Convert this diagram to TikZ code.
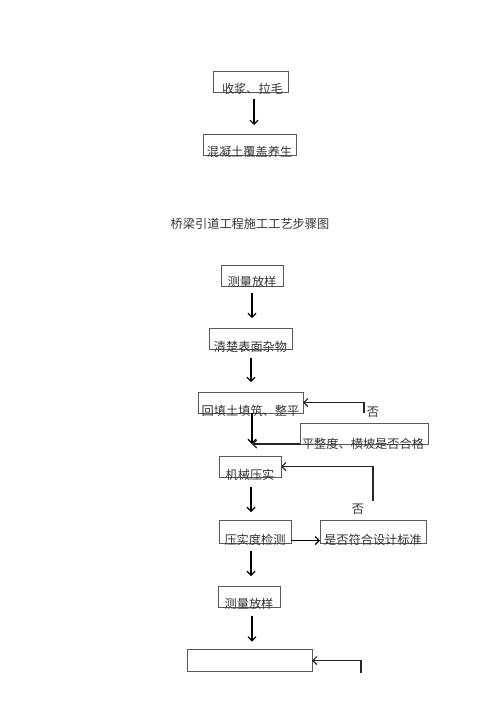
\documentclass[tikz,border=0pt]{standalone}
\usepackage{fontspec}
\newfontfamily\cjk{Noto Sans CJK SC}
\usetikzlibrary{arrows.meta}
\begin{document}
\begin{tikzpicture}[x=1pt,y=-1pt,
  box/.style={draw=black!65,line width=0.8pt,rectangle,inner sep=0pt,outer sep=0pt,minimum height=21pt},
  txt/.style={inner sep=0pt,text=black!80,font=\cjk\fontsize{12.2}{14}\selectfont},
  arr/.style={line width=1.1pt,-{Straight Barb[length=4pt,width=8pt,line width=1.1pt]}},
  fb/.style={line width=1.1pt,black!85,-{Straight Barb[length=4pt,width=8pt,line width=1.1pt]}}]
\useasboundingbox (0,0) rectangle (500,707);
% boxes
\node[box,minimum width=75pt] (b1) at (250.5,81.5) {};
\node[box,minimum width=93pt] (b2) at (249.5,144.5) {};
\node[box,minimum width=62pt] (b3) at (252,275.5) {};
\node[box,minimum width=83pt] (b4) at (250.5,338.5) {};
\node[box,minimum width=105pt] (b5) at (250.5,402.5) {};
\node[box,minimum width=128pt] (b6) at (364,433.5) {};
\node[box,minimum width=62pt] (b7) at (250,466.5) {};
\node[box,minimum width=72pt,minimum height=23pt] (b8) at (255,531.5) {};
\node[box,minimum width=106pt,minimum height=23pt] (b9) at (373,531.5) {};
\node[box,minimum width=62pt] (b10) at (249,596.5) {};
\node[box,minimum width=125pt,minimum height=22pt] (b11) at (249.5,660.5) {};
% texts
\node[txt] (t1) at ([xshift=2pt,yshift=3pt]b1.south) {收浆、拉毛};
\node[txt] (t2) at ([yshift=3pt]b2.south) {混凝土覆盖养生};
\node[txt] (title) at (250,224) {桥梁引道工程施工工艺步骤图};
\node[txt] (t3) at ([yshift=4pt]b3.south) {测量放样};
\node[txt] (t4) at ([yshift=2pt]b4.south) {清楚表面杂物};
\node[txt] (t5) at ([yshift=2pt]b5.south) {回填土填筑、整平};
\node[txt] (t6) at ([xshift=-1pt]b6.south) {平整度、横坡是否合格};
\node[txt] (t7) at ([yshift=2pt]b7.south) {机械压实};
\node[txt] (t8) at ([yshift=3pt]b8.south) {压实度检测};
\node[txt] (t9) at ([yshift=3pt]b9.south) {是否符合设计标准};
\node[txt] (t10) at ([yshift=3pt]b10.south) {测量放样};
\node[txt] (no1) at (373,412) {否};
\node[txt] (no2) at (358,509) {否};
% arrows
\draw[arr] ([xshift=3.5pt,yshift=-7pt]b1.south) -- ([xshift=4.5pt,yshift=9pt]b2.north);
\draw[arr] ([yshift=-7pt]b3.south) -- ([xshift=1.5pt,yshift=10pt]b4.north);
\draw[arr] ([xshift=0.5pt,yshift=-9pt]b4.south) -- ([xshift=0.5pt,yshift=10pt]b5.north);
\coordinate (m1) at (252,444);
\draw[arr] ([xshift=1.5pt]b5.south) -- (m1);
\draw[fb] (b6.south west) -- (m1);
\draw[fb] ([yshift=10pt]b6.north) |- (b5.east);
\draw[arr] ([xshift=1pt,yshift=-10pt]b7.south) -- ([xshift=-4pt,yshift=8pt]b8.north);
\draw[arr] ([yshift=-9pt]b8.east) -- ([yshift=-9pt]b9.west);
\draw[fb] ([yshift=19pt]b9.north) |- (b7.east);
\draw[arr] ([xshift=-4pt,yshift=-8pt]b8.south) -- ([xshift=2pt,yshift=10pt]b10.north);
\draw[arr] ([xshift=3pt,yshift=-9pt]b10.south) -- ([xshift=2.5pt,yshift=8pt]b11.north);
\coordinate (c1) at (361,673);
\draw[fb] (c1) |- (b11.east);
\end{tikzpicture}
\end{document}
